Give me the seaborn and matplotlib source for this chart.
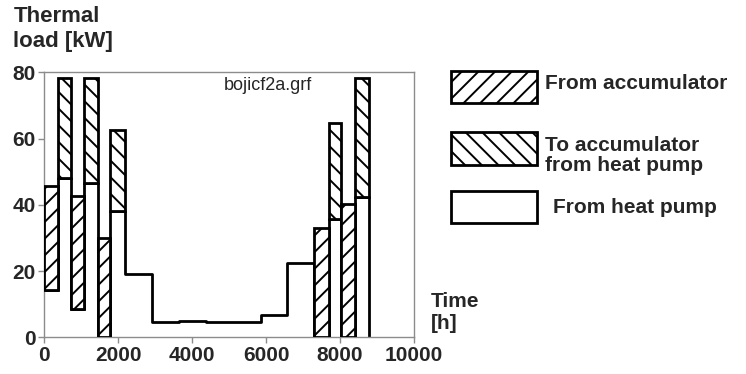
import matplotlib
matplotlib.use("Agg")
import matplotlib.pyplot as plt
from matplotlib.patches import Rectangle
import seaborn as sns

# interval edges [h] and loads per interval [kW]
edges = [0, 380, 720, 1080, 1450, 1790, 2190, 2900, 3650, 4370, 5860, 6570,
         7300, 7700, 8030, 8400, 8785]
heat_pump = [14.3, 48.2, 8.4, 46.7, 0.0, 38.1, 19.0, 4.5, 4.9, 4.5, 6.6, 22.3,
             0.0, 35.7, 0.0, 42.5]
from_acc = [31.4, 0, 34.3, 0, 29.9, 0, 0, 0, 0, 0, 0, 0, 32.9, 0, 40.2, 0]
to_acc = [0, 30.2, 0, 31.7, 0, 24.5, 0, 0, 0, 0, 0, 0, 0, 29.1, 0, 35.7]

legend_labels = ["From accumulator", "To accumulator\nfrom heat pump", "From heat pump"]

sns.set_theme(style="white")
plt.rcParams["font.family"] = ["Liberation Sans", "DejaVu Sans"]
plt.rcParams["hatch.linewidth"] = 1.4

fig = plt.figure(figsize=(7.46, 3.74), dpi=100)
ax = fig.add_axes([0.0594, 0.0981, 0.4956, 0.7086])

# heat pump profile as a step line
xs = edges[:-1] + [edges[-1], edges[-1]]
ys = heat_pump + [heat_pump[-1], 0]
sns.lineplot(x=xs, y=ys, estimator=None, sort=False, drawstyle="steps-post",
             color="black", lw=2, ax=ax, zorder=2)

starts = edges[:-1]
widths = [b - a for a, b in zip(edges[:-1], edges[1:])]
for x0, w, hp, fa, ta in zip(starts, widths, heat_pump, from_acc, to_acc):
    if fa > 0:
        ax.bar(x0, fa, width=w, bottom=hp, align="edge", color="white",
               edgecolor="black", hatch="//", linewidth=2, zorder=3)
    if ta > 0:
        ax.bar(x0, ta, width=w, bottom=hp, align="edge", color="white",
               edgecolor="black", hatch="\\\\", linewidth=2, zorder=3)

ax.set_xlim(0, 10000)
ax.set_ylim(0, 80)
ax.set_xticks(range(0, 10001, 2000))
ax.set_yticks(range(0, 81, 20))
for s in ax.spines.values():
    s.set_color("#8c8c8c")
    s.set_linewidth(1)
ax.tick_params(axis="both", direction="out", length=4, width=1, color="#8c8c8c",
               labelsize=15, pad=2, bottom=True, left=True)
for lab in ax.get_xticklabels() + ax.get_yticklabels():
    lab.set_fontweight("bold")
ax.set_xlabel("")
ax.set_ylabel("")

fig.text(0.018, 0.985, "Thermal\nload [kW]", ha="left", va="top", fontsize=16,
         fontweight="bold", linespacing=1.25)
fig.text(0.578, 0.165, "Time\n[h]", ha="left", va="center", fontsize=15,
         fontweight="bold", linespacing=1.2)
ax.text(0.605, 0.952, "bojicf2a.grf", transform=ax.transAxes, ha="center",
        va="center", fontsize=13)

# legend drawn by hand
rows = [(0.724, "//"), (0.56, "\\\\"), (0.403, None)]
for (yb, hatch), label in zip(rows, legend_labels):
    fig.patches.append(Rectangle((0.604, yb), 0.116, 0.086, transform=fig.transFigure,
                                 facecolor="white", edgecolor="black", lw=2,
                                 hatch=hatch, figure=fig))
for yt, label in [(0.778, legend_labels[0]), (0.585, legend_labels[1]),
                  (0.446, legend_labels[2])]:
    fig.text(0.731 if label != legend_labels[2] else 0.741, yt, label,
             ha="left", va="center", fontsize=15, fontweight="bold",
             linespacing=1.05)

fig.savefig("out.png", dpi=100)
